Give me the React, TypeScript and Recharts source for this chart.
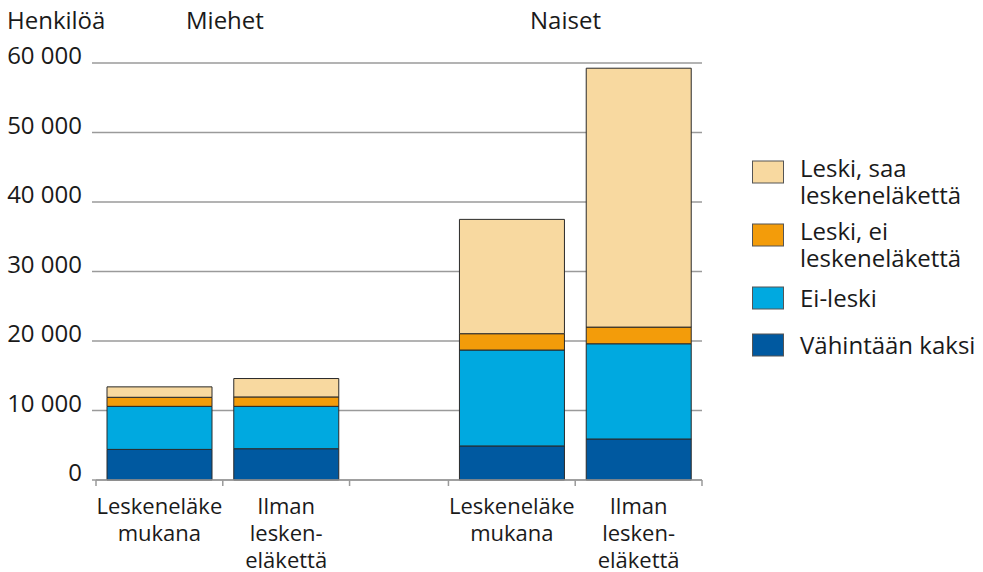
import React from "react";
import { BarChart, Bar, XAxis, YAxis, CartesianGrid } from "recharts";

// categories (four bars), groups above them
const categories = [
  "Leskeneläke\nmukana",
  "Ilman\nlesken-\neläkettä",
  "Leskeneläke\nmukana",
  "Ilman\nlesken-\neläkettä",
];
const groups = ["Miehet", "Naiset"];

// series values, bottom to top
const vahintaanKaksi = [4400, 4500, 4900, 5900];
const eiLeski = [6200, 6100, 13800, 13700];
const leskiEiEl = [1300, 1350, 2350, 2400];
const leskiSaaEl = [1500, 2650, 16450, 37250];

const yTicks = [0, 10000, 20000, 30000, 40000, 50000, 60000];

const series = [
  { key: "vk", name: "Vähintään kaksi", color: "#0059a0", values: vahintaanKaksi },
  { key: "el", name: "Ei-leski", color: "#00a9e0", values: eiLeski },
  { key: "le", name: "Leski, ei\nleskeneläkettä", color: "#f39c0a", values: leskiEiEl },
  { key: "ls", name: "Leski, saa\nleskeneläkettä", color: "#f8d9a0", values: leskiSaaEl },
];

// x slots: bar, bar, empty gap, bar, bar
const slotWidths = [1, 1, 0.78, 1, 1];
const barSlots = [0, 1, 3, 4];

const boundaries = slotWidths.reduce<number[]>((acc, w) => [...acc, acc[acc.length - 1] + w], [0]);
const centers = barSlots.map((s) => boundaries[s] + slotWidths[s] / 2);
const xMax = boundaries[boundaries.length - 1];

const data = categories.map((label, i) => {
  const row: Record<string, number | string> = { x: centers[i], label };
  series.forEach((s) => (row[s.key] = s.values[i]));
  return row;
});

const fmt = (v: number) => String(v).replace(/\B(?=(\d{3})+(?!\d))/g, " ");

const FONT = "'Open Sans', sans-serif";
const TEXT = "#1a1a1a";
const GRID = "#9a9a9a";

function XTick(props: any) {
  const { x, y, payload } = props;
  const idx = centers.findIndex((c) => Math.abs(c - payload.value) < 1e-6);
  if (idx < 0) {
    return <line x1={x} x2={x} y1={y} y2={y + 6} stroke={GRID} strokeWidth={1.5} />;
  }
  const lines = categories[idx].split("\n");
  return (
    <g>
      {lines.map((l, i) => (
        <text key={i} x={x} y={y + 34 + i * 27} textAnchor="middle" fill={TEXT} fontSize={22} fontFamily={FONT}>
          {l}
        </text>
      ))}
    </g>
  );
}

function YTick(props: any) {
  const { x, y, payload } = props;
  return (
    <text x={x} y={y + 1} textAnchor="end" fill={TEXT} fontSize={24} fontFamily={FONT}>
      {fmt(payload.value)}
    </text>
  );
}

export default function App() {
  const legendItems = [...series].reverse();
  const legendRows = [161, 224, 287, 334];
  return (
    <div style={{ position: "absolute", left: 0, top: 0, width: 983, height: 572, background: "#fff", fontFamily: FONT }}>
      <BarChart
        width={983}
        height={572}
        data={data}
        margin={{ top: 63, right: 281, left: 0, bottom: 32 }}
      >
        <CartesianGrid vertical={false} stroke={GRID} strokeWidth={1.5} />
        <XAxis
          type="number"
          dataKey="x"
          domain={[0, xMax]}
          ticks={[...boundaries, ...centers]}
          interval={0}
          height={60}
          tickSize={0}
          tickMargin={0}
          tickLine={false}
          axisLine={{ stroke: GRID, strokeWidth: 1.5 }}
          tick={<XTick />}
        />
        <YAxis
          width={96}
          domain={[0, 60000]}
          ticks={yTicks}
          interval={0}
          tickSize={4}
          tickMargin={10}
          axisLine={false}
          tickLine={{ stroke: GRID, strokeWidth: 1.5 }}
          tick={<YTick />}
        />
        {series.map((s) => (
          <Bar
            key={s.key}
            dataKey={s.key}
            name={s.name}
            stackId="a"
            fill={s.color}
            stroke="#2a2a2a"
            strokeWidth={1}
            barSize={105}
            isAnimationActive={false}
          />
        ))}
      </BarChart>
      <svg width={983} height={572} style={{ position: "absolute", left: 0, top: 0, pointerEvents: "none" }}>
        <text x={7} y={29} fontSize={24} fill={TEXT} fontFamily={FONT}>Henkilöä</text>
        <text x={186} y={29} fontSize={24} fill={TEXT} fontFamily={FONT}>{groups[0]}</text>
        <text x={530} y={29} fontSize={24} fill={TEXT} fontFamily={FONT}>{groups[1]}</text>
        {legendItems.map((s, i) => {
          const top = legendRows[i];
          const lines = s.name.split("\n");
          const first = lines.length > 1 ? top + 16 : top + 20;
          return (
            <g key={s.key}>
              <rect x={752.5} y={top} width={31} height={22} fill={s.color} stroke="#555" strokeWidth={1} />
              {lines.map((l, j) => (
                <text key={j} x={800} y={first + j * 27} fontSize={24} fill={TEXT} fontFamily={FONT}>
                  {l}
                </text>
              ))}
            </g>
          );
        })}
      </svg>
    </div>
  );
}
